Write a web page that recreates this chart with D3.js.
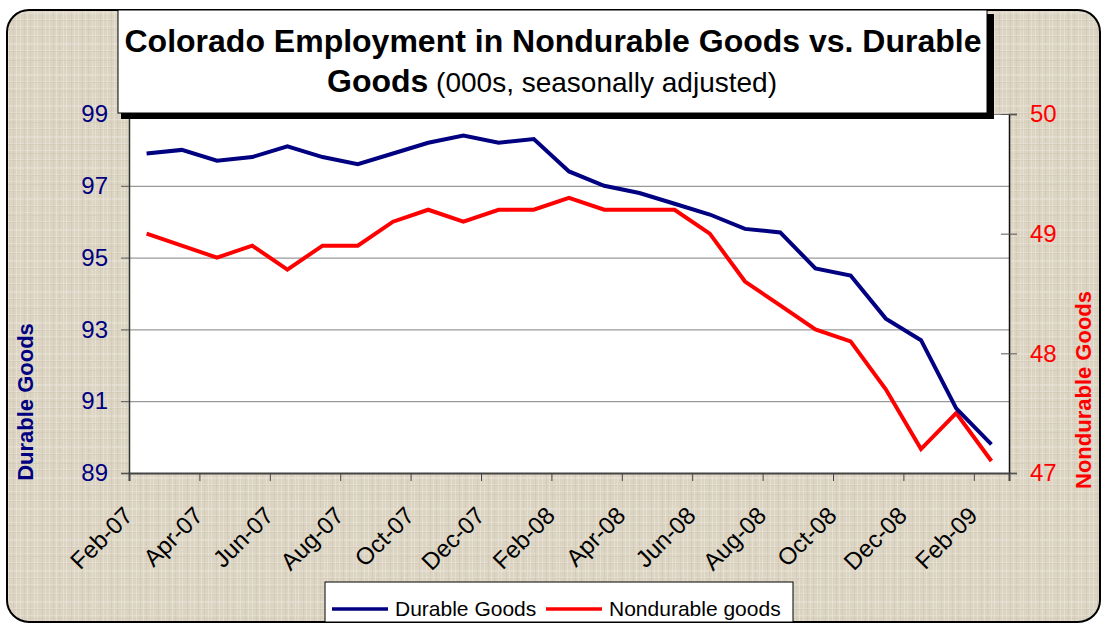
<!DOCTYPE html>
<html>
<head>
<meta charset="utf-8">
<script src="https://cdn.jsdelivr.net/npm/d3@7"></script>
<style>
    body { margin: 0; background: #fff; }
    text { font-family: "Liberation Sans", Arial, sans-serif; }
</style>
</head>
<body>
<div id="chart"></div>
<script>
const months = ["Feb-07", "Mar-07", "Apr-07", "May-07", "Jun-07", "Jul-07", "Aug-07", "Sep-07",
    "Oct-07", "Nov-07", "Dec-07", "Jan-08", "Feb-08", "Mar-08", "Apr-08", "May-08", "Jun-08",
    "Jul-08", "Aug-08", "Sep-08", "Oct-08", "Nov-08", "Dec-08", "Jan-09", "Feb-09"];

const durable = [97.9, 98.0, 97.7, 97.8, 98.1, 97.8, 97.6, 97.9, 98.2, 98.4, 98.2, 98.3, 97.4,
    97.0, 96.8, 96.5, 96.2, 95.8, 95.7, 94.7, 94.5, 93.3, 92.7, 90.8, 89.8];

const nondurable = [49.0, 48.9, 48.8, 48.9, 48.7, 48.9, 48.9, 49.1, 49.2, 49.1, 49.2, 49.2, 49.3,
    49.2, 49.2, 49.2, 49.0, 48.6, 48.4, 48.2, 48.1, 47.7, 47.2, 47.5, 47.1];

const leftTicks = [89, 91, 93, 95, 97, 99];
const rightTicks = [47, 48, 49, 50];

const width = 1102, height = 624;
const plot = {left: 129, right: 1009, top: 114, bottom: 473};

const svg = d3.select("#chart").append("svg")
    .attr("width", width)
    .attr("height", height);

// textured beige background (fine woven look)
const defs = svg.append("defs");
const pat = defs.append("pattern")
    .attr("id", "canvas")
    .attr("patternUnits", "userSpaceOnUse")
    .attr("width", 29)
    .attr("height", 31);
pat.append("rect").attr("width", 29).attr("height", 31).attr("fill", "#dcd4c3");
[1, 5, 8, 13, 16, 20, 24, 27].forEach((p, i) => {
    pat.append("rect").attr("x", p).attr("y", 0).attr("width", 1).attr("height", 31)
        .attr("fill", i % 3 ? "#ebe6db" : "#cfc6b2").attr("opacity", 0.6);
    pat.append("rect").attr("x", 0).attr("y", (p * 2 + 3) % 31).attr("width", 29).attr("height", 1)
        .attr("fill", i % 3 ? "#e9e3d7" : "#d0c7b3").attr("opacity", 0.6);
});

svg.append("rect")
    .attr("x", 7).attr("y", 10)
    .attr("width", 1093).attr("height", 612)
    .attr("rx", 22)
    .attr("fill", "url(#canvas)")
    .attr("stroke", "#000")
    .attr("stroke-width", 2);

// plot area
svg.append("rect")
    .attr("x", plot.left).attr("y", plot.top)
    .attr("width", plot.right - plot.left).attr("height", plot.bottom - plot.top)
    .attr("fill", "#fff");

const x = d3.scaleLinear().domain([0, months.length]).range([plot.left, plot.right]);
const yL = d3.scaleLinear().domain([89, 99]).range([plot.bottom, plot.top]);
const yR = d3.scaleLinear().domain([47, 50]).range([plot.bottom, plot.top]);

// gridlines
svg.append("g")
    .attr("transform", `translate(${plot.left},0)`)
    .call(d3.axisLeft(yL).tickValues([91, 93, 95, 97, 99]).tickSize(-(plot.right - plot.left)).tickFormat(""))
    .call(g => g.select(".domain").remove())
    .call(g => g.selectAll("line").attr("stroke", "#808080"));

// left axis
svg.append("g")
    .attr("transform", `translate(${plot.left},0)`)
    .call(d3.axisLeft(yL).tickValues(leftTicks).tickSize(8).tickPadding(13).tickFormat(d3.format("d")))
    .call(g => g.select(".domain").attr("stroke", "#333").attr("stroke-width", 1.5))
    .call(g => g.selectAll("line").attr("stroke", "#555"))
    .call(g => g.selectAll("text").attr("fill", "#000080").style("font-size", "24px"));

// right axis, cross ticks
svg.append("g")
    .attr("transform", `translate(${plot.right},0)`)
    .call(d3.axisRight(yR).tickValues(rightTicks).tickSize(8).tickPadding(13).tickFormat(d3.format("d")))
    .call(g => g.select(".domain").attr("stroke", "#111").attr("stroke-width", 1.5))
    .call(g => g.selectAll("line").attr("stroke", "#555"))
    .call(g => g.selectAll("text").attr("fill", "#ff0000").style("font-size", "24px"));

svg.append("g")
    .attr("transform", `translate(${plot.right},0)`)
    .call(d3.axisRight(yR).tickValues(rightTicks).tickSize(-8).tickFormat(""))
    .call(g => g.select(".domain").remove())
    .call(g => g.selectAll("line").attr("stroke", "#555"));

// bottom axis: tick marks between categories
svg.append("g")
    .attr("transform", `translate(0,${plot.bottom})`)
    .call(d3.axisBottom(x).tickValues(d3.range(0, months.length, 2)).tickSize(8).tickFormat(""))
    .call(g => g.select(".domain").attr("stroke", "#444").attr("stroke-width", 2))
    .call(g => g.selectAll("line").attr("stroke", "#444"));

// category labels, every other month
svg.append("g")
    .attr("transform", `translate(0,${plot.bottom})`)
    .call(d3.axisBottom(x).tickValues(d3.range(0, months.length, 2).map(i => i + 0.5))
        .tickSize(0).tickFormat(i => months[Math.floor(i)]))
    .call(g => g.select(".domain").remove())
    .call(g => g.selectAll("text")
        .attr("y", 0).attr("dy", 0)
        .attr("text-anchor", "end")
        .attr("transform", "translate(-13,44) rotate(-45)")
        .attr("fill", "#000")
        .style("font-size", "24px"));

// series lines
const lineL = d3.line().x((d, i) => x(i + 0.5)).y(d => yL(d));
const lineR = d3.line().x((d, i) => x(i + 0.5)).y(d => yR(d));

svg.append("path")
    .datum(nondurable)
    .attr("fill", "none")
    .attr("stroke", "#ff0000")
    .attr("stroke-width", 4)
    .attr("d", lineR);

svg.append("path")
    .datum(durable)
    .attr("fill", "none")
    .attr("stroke", "#000080")
    .attr("stroke-width", 4)
    .attr("d", lineL);

// axis titles
svg.append("text")
    .attr("transform", "translate(33,402) rotate(-90)")
    .attr("text-anchor", "middle")
    .attr("fill", "#000080")
    .style("font-size", "22px")
    .style("font-weight", "bold")
    .text("Durable Goods");

svg.append("text")
    .attr("transform", "translate(1091,390) rotate(-90)")
    .attr("text-anchor", "middle")
    .attr("fill", "#ff0000")
    .style("font-size", "22px")
    .style("font-weight", "bold")
    .text("Nondurable Goods");

// title box with shadow
svg.append("rect")
    .attr("x", 121).attr("y", 14)
    .attr("width", 873).attr("height", 105)
    .attr("fill", "#000");
svg.append("rect")
    .attr("x", 118).attr("y", 10)
    .attr("width", 869).attr("height", 103)
    .attr("fill", "#fff")
    .attr("stroke", "#000")
    .attr("stroke-width", 1);

svg.append("text")
    .attr("x", 553).attr("y", 52)
    .attr("text-anchor", "middle")
    .style("font-size", "32px")
    .style("font-weight", "bold")
    .text("Colorado Employment in Nondurable Goods vs. Durable");

const sub = svg.append("text")
    .attr("x", 552).attr("y", 92)
    .attr("text-anchor", "middle");
sub.append("tspan").style("font-size", "32px").style("font-weight", "bold").text("Goods");
sub.append("tspan").style("font-size", "28px").text(" (000s, seasonally adjusted)");

// legend
const legend = svg.append("g");
legend.append("rect")
    .attr("x", 325).attr("y", 582)
    .attr("width", 468).attr("height", 40)
    .attr("fill", "#fff")
    .attr("stroke", "#000")
    .attr("stroke-width", 1);

const items = [
    {name: "Durable Goods", color: "#000080", x: 332},
    {name: "Nondurable goods", color: "#ff0000", x: 546}
];
items.forEach(item => {
    legend.append("line")
        .attr("x1", item.x).attr("x2", item.x + 56)
        .attr("y1", 609).attr("y2", 609)
        .attr("stroke", item.color)
        .attr("stroke-width", 3.5);
    legend.append("text")
        .attr("x", item.x + 63).attr("y", 616)
        .style("font-size", "21px")
        .text(item.name);
});
</script>
</body>
</html>
